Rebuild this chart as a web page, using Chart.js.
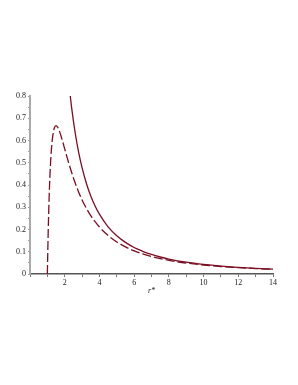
<!DOCTYPE html>
<html>
<head>
<meta charset="utf-8">
<script src="https://cdn.jsdelivr.net/npm/chart.js@4/dist/chart.umd.min.js"></script>
<style>
html,body{margin:0;padding:0;background:#fff;}
#wrap{width:298px;height:385px;position:relative;}
</style>
</head>
<body>
<div id="wrap"><canvas id="c" width="298" height="385"></canvas></div>
<script>
// r* values for the dashed curve
const dashedR = [1, 1.05, 1.1, 1.15, 1.2, 1.25, 1.3, 1.4, 1.5, 1.6, 1.7, 1.8, 2, 2.2, 2.4, 2.6, 2.8, 3, 3.25, 3.5, 3.75, 4, 4.5, 5, 5.5, 6, 6.5, 7, 7.5, 8, 9, 10, 11, 12, 13, 14];
const dashedValues = [0, 0.194, 0.338, 0.444, 0.521, 0.576, 0.614, 0.656, 0.667, 0.659, 0.641, 0.617, 0.5625, 0.507, 0.456, 0.410, 0.369, 0.333, 0.295, 0.262, 0.235, 0.211, 0.173, 0.144, 0.122, 0.104, 0.090, 0.0787, 0.0693, 0.0615, 0.0494, 0.0405, 0.0338, 0.0286, 0.0246, 0.0213];
// r* values for the solid curve
const solidR = [2.32, 2.4, 2.6, 2.8, 3, 3.25, 3.5, 3.75, 4, 4.5, 5, 5.5, 6, 6.5, 7, 7.5, 8, 9, 10, 11, 12, 13, 14];
const solidValues = [0.8, 0.747, 0.636, 0.548, 0.478, 0.407, 0.351, 0.306, 0.269, 0.212, 0.172, 0.142, 0.119, 0.102, 0.0878, 0.0764, 0.0672, 0.0531, 0.043, 0.0355, 0.0299, 0.0254, 0.0219];
const xTickLabels = ['2', '4', '6', '8', '10', '12', '14'];
const yTickLabels = ['0', '0.1', '0.2', '0.3', '0.4', '0.5', '0.6', '0.7', '0.8'];

const lineColor = '#7a0f22';
const font = {family: '"Liberation Serif", "DejaVu Serif", serif', size: 8};

new Chart(document.getElementById('c'), {
  type: 'line',
  data: {
    datasets: [
      {
        data: solidR.map((r, i) => ({x: r, y: solidValues[i]})),
        borderColor: lineColor, borderWidth: 1.3, pointRadius: 0,
        cubicInterpolationMode: 'monotone', fill: false
      },
      {
        data: dashedR.map((r, i) => ({x: r, y: dashedValues[i]})),
        borderColor: lineColor, borderWidth: 1.3, pointRadius: 0,
        borderDash: [9, 3], cubicInterpolationMode: 'monotone', fill: false
      }
    ]
  },
  options: {
    responsive: false,
    animation: false,
    events: [],
    layout: {autoPadding: false, padding: {left: 0, right: 25, top: 96, bottom: 89}},
    plugins: {legend: {display: false}, tooltip: {enabled: false}},
    scales: {
      x: {
        type: 'linear', min: 0, max: 14,
        afterFit: s => { s.height = 22; },
        border: {color: '#555', width: 1.5},
        grid: {drawOnChartArea: false, tickLength: 3, color: '#777'},
        ticks: {
          stepSize: 1, autoSkip: false, maxRotation: 0, padding: 1,
          color: '#222', font: font,
          callback: v => xTickLabels.includes(String(v)) ? String(v) : ''
        },
        title: {display: true, text: 'r*', color: '#222', padding: {top: 0, bottom: 0},
                font: {family: font.family, size: 8, style: 'italic'}}
      },
      y: {
        type: 'linear', min: 0, max: 0.8,
        afterFit: s => { s.width = 30; },
        border: {color: '#aaa', width: 2},
        grid: {drawOnChartArea: false, tickLength: 2, color: '#999'},
        ticks: {
          stepSize: 0.05, autoSkip: false, padding: 2, color: '#222', font: font,
          callback: v => { const s = String(Math.round(v * 100) / 100); return yTickLabels.includes(s) ? s : ''; }
        }
      }
    }
  }
});
</script>
</body>
</html>
